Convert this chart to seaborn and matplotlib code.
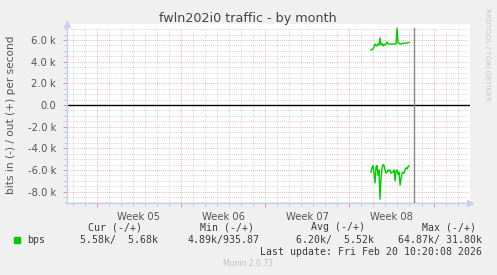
import numpy as np
import pandas as pd
import matplotlib
matplotlib.use("Agg")
import matplotlib.pyplot as plt
import seaborn as sns

# ---- data (values in k bits/s) ----
title = "fwln202i0 traffic - by month"
ylabel = "bits in (-) / out (+) per second"
week_labels = ["Week 05", "Week 06", "Week 07", "Week 08"]
start_day = 22.8          # first sample, days after start of Week 05
step_day = 1.0 / 12.0     # 2-hour samples
now_day = 26.37           # "now" marker
out_k = [5.08, 5.08, 5.17, 5.36, 5.63, 5.49, 5.45, 5.63, 5.54, 6.19,
         5.54, 5.63, 5.45, 5.63, 5.54, 5.63, 5.82, 5.63, 5.63, 5.63,
         5.63, 5.63, 5.63, 5.63, 5.63, 5.63, 7.11, 5.72, 5.72, 5.63,
         5.63, 5.68, 5.68, 5.72, 5.72, 5.72, 5.72, 5.77, 5.77]
in_k = [-6.2, -5.8, -5.6, -6.3, -7.2, -5.7, -5.6, -6.5, -6.0, -8.7,
        -6.8, -5.8, -5.5, -5.6, -6.0, -6.3, -6.2, -6.0, -6.1, -6.0,
        -6.3, -6.2, -6.2, -6.0, -7.0, -6.1, -6.0, -6.4, -6.2, -7.4,
        -6.8, -6.3, -6.2, -6.3, -6.0, -5.8, -5.9, -5.7, -5.6]
legend_headers = ["Cur (-/+)", "Min (-/+)", "Avg (-/+)", "Max (-/+)"]
legend_values = ["5.58k/  5.68k", "4.89k/935.87", "6.20k/  5.52k", "64.87k/ 31.80k"]
last_update = "Last update: Fri Feb 20 10:20:08 2026"
series_name = "bps"

t = start_day + step_day * np.arange(len(out_k))
df = pd.DataFrame({"t": np.concatenate([t, t]),
                   "v": np.concatenate([out_k, in_k]),
                   "dir": ["out"] * len(out_k) + ["in"] * len(in_k)})

W, H = 497, 275
fig = plt.figure(figsize=(W / 100, H / 100), dpi=100, facecolor="#F0F0F0")
plt.rcParams["font.family"] = ["DejaVu Sans"]

def fx(px):
    return px / W

def fy(py):
    return 1 - py / H

ax = fig.add_axes([fx(67), fy(203.3), fx(470) - fx(67), fy(24) - fy(203.3)])
ax.set_facecolor("white")

green = "#00CC00"
sns.lineplot(data=df, x="t", y="v", units="dir", estimator=None, color=green,
             linewidth=1.0, ax=ax, legend=False)

ax.set_xlim(-2.47, 31.03)
ax.set_ylim(-9.08, 7.48)

# grid
major_y = np.arange(-8, 8, 2)
minor_y = np.arange(-9, 7.01, 0.5)
major_x = np.arange(0, 29, 7)
minor_x = np.arange(-2, 31, 1)
ax.set_yticks(major_y)
ax.set_yticks(minor_y, minor=True)
ax.set_yticklabels([("%.1f k" % v) if v != 0 else "0.0" for v in major_y])
ax.set_xticks(major_x)
ax.set_xticklabels([""] * len(major_x))
ax.set_xticks(minor_x, minor=True)
ax.grid(False)
gtop = (7.0 + 9.08) / (7.48 + 9.08)
for y in minor_y:
    if y not in major_y and y <= 7.0:
        ax.axhline(y, xmax=0.995, color="#c8c8c8", lw=0.6, ls=(0, (1, 1.5)), zorder=0.5)
for y in major_y:
    ax.axhline(y, xmax=0.995, color="#e8a0a0", lw=0.6, ls=(0, (1, 1.5)), zorder=0.6)
for x in minor_x:
    if x not in major_x:
        ax.axvline(x, ymax=gtop, color="#c8c8c8", lw=0.6, ls=(0, (1, 1.5)), zorder=0.5)
for x in major_x:
    ax.axvline(x, ymax=gtop, color="#e8a0a0", lw=0.6, ls=(0, (1, 1.5)), zorder=0.6)

ax.axhline(0, color="black", lw=1.0, zorder=2)
ax.axvline(now_day, ymax=(7.1 + 9.08) / (7.48 + 9.08), color="#888888", lw=1.0, zorder=3)

# week labels
for i, lab in enumerate(week_labels):
    ax.text(3.5 + 7 * i, -0.05, lab, transform=ax.get_xaxis_transform(),
            ha="center", va="top", fontsize=7.2, color="#555555")

ax.tick_params(axis="y", which="major", length=3, color="#e08080", labelsize=7.2,
               labelcolor="#555555", pad=5, width=0.6)
ax.tick_params(axis="y", which="minor", length=2, color="#c0c0c0", width=0.6)
ax.tick_params(axis="x", which="major", length=3, color="#e08080", width=0.6)
ax.tick_params(axis="x", which="minor", length=2, color="#c0c0c0", width=0.6)

for s in ["top", "right"]:
    ax.spines[s].set_visible(False)
for s in ["left", "bottom"]:
    ax.spines[s].set_color("#c8cff5")
    ax.spines[s].set_linewidth(1.0)
ax.plot(1.0, 0, ">", transform=ax.transAxes, clip_on=False, color="#c8cff5", ms=4)
ax.plot(0, 1.0, "^", transform=ax.transAxes, clip_on=False, color="#c8cff5", ms=4)
ax.set_xlabel("")
ax.set_ylabel("")

fig.text(fx(10.7), fy(114.5), ylabel, rotation=90, ha="center", va="center",
         fontsize=7.6, color="#555555")
fig.text(fx(247.7), fy(18.5), title, ha="center", va="center", fontsize=9.2, color="#444444")
fig.text(fx(487), fy(8), "RRDTOOL / TOBI OETIKER", rotation=270, ha="center", va="top",
         fontsize=5.2, color="#c8c8c8")

mono = {"family": "DejaVu Sans Mono", "size": 7.1, "color": "#3a3a3a"}
head_right = [142, 254, 365, 476]
val_right = [157.5, 260, 374, 482.3]
for h, x in zip(legend_headers, head_right):
    fig.text(fx(x), fy(227.3), h, ha="right", va="center", **mono)
for v, x in zip(legend_values, val_right):
    fig.text(fx(x), fy(239.7), v, ha="right", va="center", **mono)
fig.text(fx(26.7), fy(239.7), series_name, ha="left", va="center", **mono)
fig.patches.append(matplotlib.patches.Rectangle((fx(14), fy(242.7)), fx(6), fy(237.3) - fy(242.7),
                                                transform=fig.transFigure, color=green))
fig.text(fx(482.3), fy(251.7), last_update, ha="right", va="center", **mono)
fig.text(fx(248), fy(264), "Munin 2.0.73", ha="center", va="center", fontsize=5.5, color="#c0c0c0")

fig.savefig("out.png", dpi=100, facecolor=fig.get_facecolor())
